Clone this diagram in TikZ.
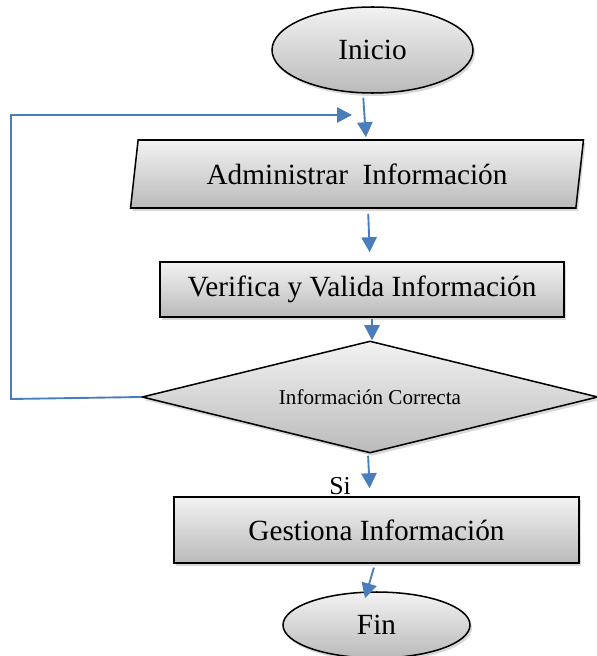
\documentclass[tikz,border=0pt]{standalone}
\usepackage{fontspec}
\setmainfont{Liberation Serif}
\usetikzlibrary{shapes.geometric,arrows.meta,shadows}
\newlength{\unitpx}
\setlength{\unitpx}{0.03cm}
\definecolor{flowblue}{RGB}{74,126,187}
\begin{document}
\begin{tikzpicture}[x=0.03cm, y=-0.03cm,
    % grey boxes with a shadow
    box/.style={draw=black, line width=1.3pt, top color=black!5, bottom color=black!27,
      drop shadow={shadow xshift=2\unitpx, shadow yshift=-3\unitpx, opacity=0.3},
      font=\fontsize{25}{30}\selectfont, inner sep=0pt},
    terminal/.style={box, ellipse},
    process/.style={box, rectangle},
    io/.style={box, trapezium, trapezium left angle=76, trapezium right angle=104, trapezium stretches=true},
    decision/.style={box, diamond, shape aspect=4.1, font=\fontsize{18}{22}\selectfont},
    % blue connectors
    flow/.style={draw=flowblue, line width=1.6pt, -{Triangle[length=0.45cm, width=0.46cm]}}]
  \useasboundingbox (0,0) rectangle (596,656);
  % nodes of the chart
  \node[terminal, minimum width=201\unitpx, minimum height=86\unitpx] (inicio) at (372.5,50) {Inicio};
  \node[io, minimum width=454\unitpx, minimum height=68\unitpx] (admin) at (357,174) {Administrar\ \ Información};
  \node[process, minimum width=404\unitpx, minimum height=55\unitpx] (verifica) at (362,289.5) {Verifica y Valida Información};
  \node[decision, minimum width=456\unitpx, minimum height=112\unitpx] (correcta) at (370,397) {Información Correcta};
  \node[process, minimum width=405\unitpx, minimum height=66\unitpx] (gestiona) at (376.5,530) {Gestiona Información};
  \node[terminal, minimum width=187\unitpx, minimum height=66\unitpx] (fin) at (376.5,625) {Fin};
  \node[font=\fontsize{22}{26}\selectfont] (si) at (340,486) {Si};
  % loop back corners
  \coordinate (loopleft) at (11,399);
  \coordinate (loopend) at (352,115);
  % connectors
  \draw[flow, shorten <=0.12cm, shorten >=0.06cm] ([xshift=-9.5\unitpx]inicio.south) -- ([xshift=9\unitpx]admin.north);
  \draw[flow, shorten <=0.15cm, shorten >=0.27cm] ([xshift=11\unitpx]admin.south) -- ([xshift=8\unitpx]verifica.north);
  \draw[flow, shorten <=0.03cm] ([xshift=10\unitpx]verifica.south) -- ([xshift=2\unitpx]correcta.north);
  \draw[flow, shorten <=0.06cm, shorten >=0.24cm] ([xshift=-2\unitpx]correcta.south) -- ([xshift=-6.5\unitpx]gestiona.north);
  \draw[flow, shorten <=0.12cm] ([xshift=-1.5\unitpx]gestiona.south) -- ([xshift=-11.5\unitpx, yshift=-7\unitpx]fin.north);
  \draw[flow] (correcta.west) -- (loopleft) |- (loopend);
\end{tikzpicture}
\end{document}
